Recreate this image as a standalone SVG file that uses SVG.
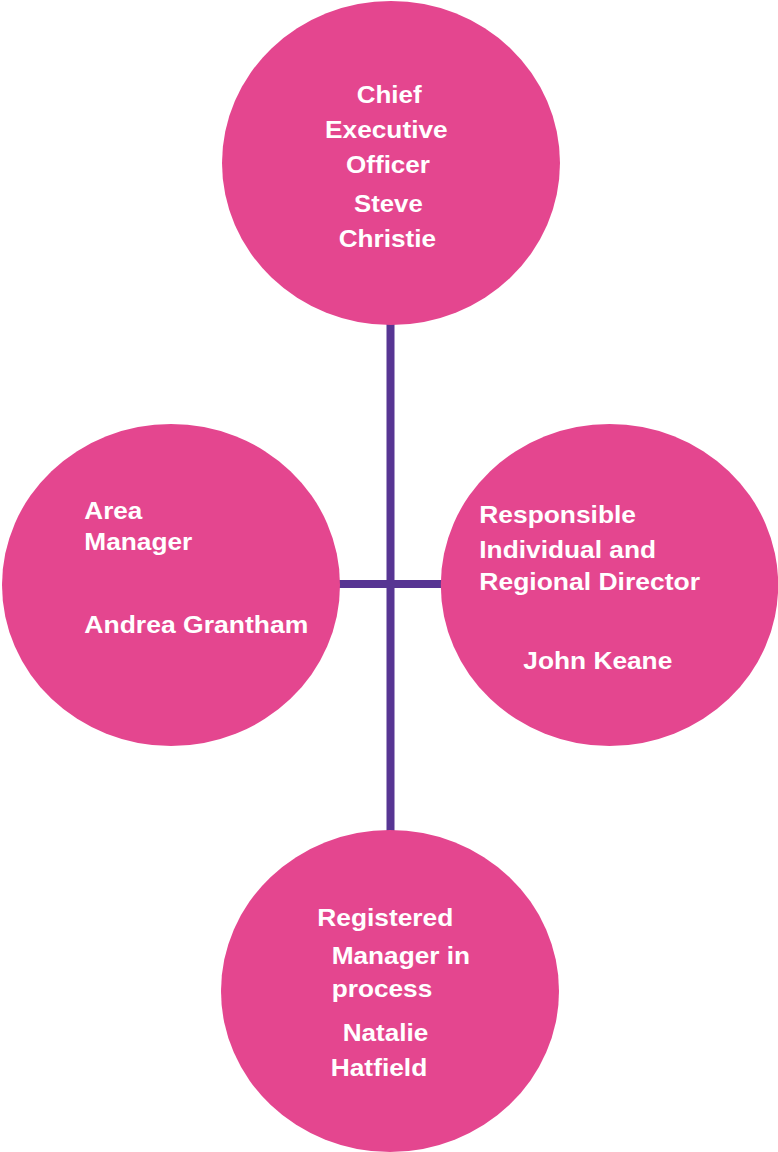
<svg xmlns="http://www.w3.org/2000/svg" width="778" height="1152" viewBox="0 0 778 1152">
<style>
.node{fill:#E4468F}
.conn{stroke:#573593;stroke-width:8;fill:none}
text{font-family:"Liberation Sans",Arial,sans-serif;font-weight:bold;font-size:24px;fill:#FFFFFF}
</style>
<rect width="778" height="1152" fill="#FFFFFF"/>
<g id="connectors">
<line class="conn" x1="390.5" y1="320" x2="390.5" y2="835"/>
<line class="conn" x1="335" y1="584" x2="446" y2="584"/>
</g>
<g id="ceo">
<ellipse class="node" cx="391" cy="163" rx="169" ry="162"/>
<text x="356.7" y="102.7" textLength="65" lengthAdjust="spacingAndGlyphs">Chief</text>
<text x="325" y="137.7" textLength="122.7" lengthAdjust="spacingAndGlyphs">Executive</text>
<text x="346" y="173.3" textLength="84" lengthAdjust="spacingAndGlyphs">Officer</text>
<text x="354" y="211.7" textLength="68.7" lengthAdjust="spacingAndGlyphs">Steve</text>
<text x="338.7" y="246.7" textLength="97.3" lengthAdjust="spacingAndGlyphs">Christie</text>
</g>
<g id="area-manager">
<ellipse class="node" cx="171" cy="585" rx="169" ry="161"/>
<text x="84.3" y="518.7" textLength="58" lengthAdjust="spacingAndGlyphs">Area</text>
<text x="84.3" y="550" textLength="108" lengthAdjust="spacingAndGlyphs">Manager</text>
<text x="84.3" y="632.7" textLength="224" lengthAdjust="spacingAndGlyphs">Andrea Grantham</text>
</g>
<g id="regional-director">
<ellipse class="node" cx="609.5" cy="585" rx="168.7" ry="161"/>
<text x="479.3" y="522.7" textLength="156.7" lengthAdjust="spacingAndGlyphs">Responsible</text>
<text x="479.3" y="557.7" textLength="176.7" lengthAdjust="spacingAndGlyphs">Individual and</text>
<text x="479.3" y="590" textLength="220.7" lengthAdjust="spacingAndGlyphs">Regional Director</text>
<text x="523.3" y="669.3" textLength="149" lengthAdjust="spacingAndGlyphs">John Keane</text>
</g>
<g id="registered-manager">
<ellipse class="node" cx="390" cy="991" rx="169" ry="161"/>
<text x="317.3" y="926" textLength="136" lengthAdjust="spacingAndGlyphs">Registered</text>
<text x="331.7" y="964" textLength="138.3" lengthAdjust="spacingAndGlyphs">Manager in</text>
<text x="331.7" y="996.7" textLength="100.6" lengthAdjust="spacingAndGlyphs">process</text>
<text x="342.7" y="1040.7" textLength="85.6" lengthAdjust="spacingAndGlyphs">Natalie</text>
<text x="330.7" y="1076" textLength="96.6" lengthAdjust="spacingAndGlyphs">Hatfield</text>
</g>
</svg>
